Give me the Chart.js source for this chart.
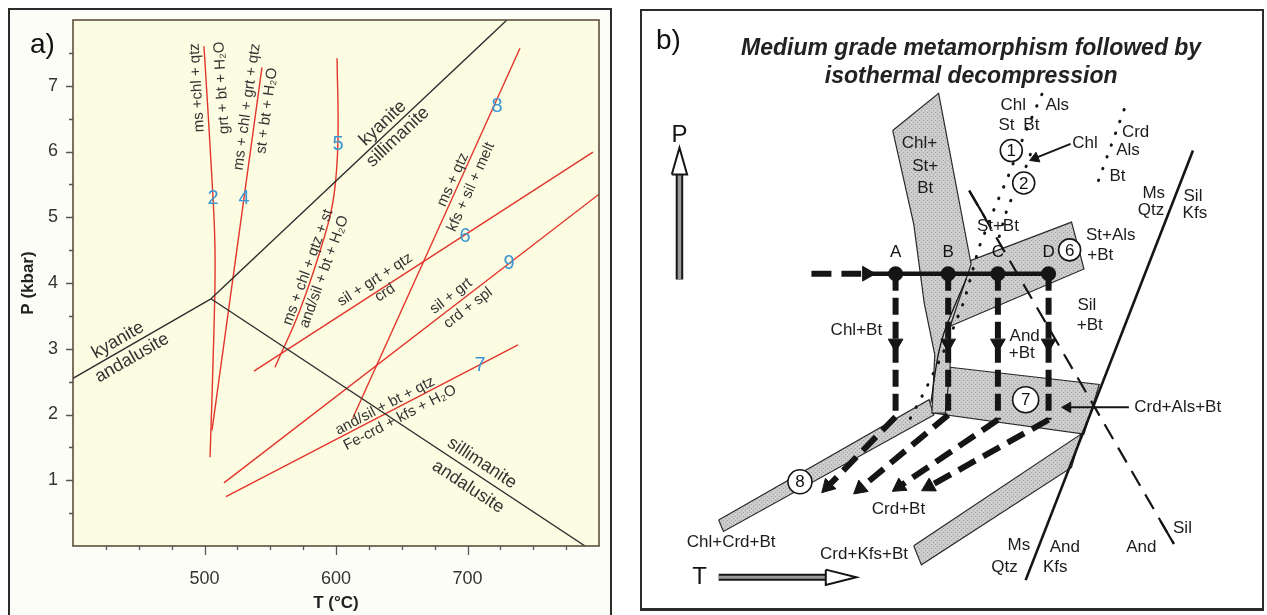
<!DOCTYPE html>
<html>
<head>
<meta charset="utf-8">
<title>Metamorphic P-T grids</title>
<script src="https://cdn.jsdelivr.net/npm/chart.js@4.4.1/dist/chart.umd.min.js"></script>
<style>
  html, body { margin: 0; padding: 0; background: #fff; }
  body { position: relative; width: 1267px; height: 615px; overflow: hidden; font-family: "Liberation Sans", Arial, sans-serif; }
  .panel { position: absolute; box-sizing: border-box; border: 2px solid #2b2b2b; pointer-events: none; }
  #frameA { left: 8px; top: 8px; width: 604px; height: 620px; }
  #frameB { left: 640px; top: 9px; width: 624px; height: 602px; border-bottom-width: 3px; }
  #bgA { position: absolute; left: 10px; top: 10px; width: 600px; height: 610px; background: #fdfdf8; }
  canvas { position: absolute; }
  #chartA { left: 10px; top: 10px; }
  #chartB { left: 641px; top: 10px; }
  .tag { position: absolute; font-size: 28px; line-height: 32px; color: #111; }
</style>
</head>
<body>
<div id="bgA"></div>
<canvas id="chartA" width="598" height="605"></canvas>
<canvas id="chartB" width="622" height="599"></canvas>
<div class="panel" id="frameA"></div>
<div class="panel" id="frameB"></div>
<div class="tag" style="left:30px;top:28px">a)</div>
<div class="tag" style="left:656px;top:24px">b)</div>
<script>
const F = '"Liberation Sans", Arial, sans-serif';

// ---- panel a: T (°C), P (kbar) ----
const tTickLabels = [500, 600, 700];
const pTickLabels = [1, 2, 3, 4, 5, 6, 7];

// Al2SiO5 boundaries
const kyAnd = [[400, 2.55], [504.9, 3.76]];
const kySil = [[504.9, 3.76], [730, 8]];
const silAnd = [[504.9, 3.76], [789.4, 0]];
// reaction curves 2, 4, 5, 6, 7, 8, 9
const rx2 = [[499.6, 7.6], [505.7, 5.57], [508.0, 4.5], [507.2, 3.29], [504.2, 1.35]];
const rx4 = [[543.7, 7.28], [505.7, 1.76]];
const rx5 = [[600.8, 7.42], [601.5, 6.17], [598.5, 5.34], [591.6, 4.73], [572.6, 3.59], [553.6, 2.72]];
const rx6 = [[537.6, 2.66], [795.4, 5.99]];
const rx7 = [[516.3, 0.75], [738.4, 3.06]];
const rx8 = [[612.9, 1.95], [739.9, 7.57]];
const rx9 = [[514.8, 0.96], [800, 5.35]];

// labels: text, T, P, angle, kind
const labelsA = [
  ['kyanite', 434.2, 3.13, -29.8, 'big'],
  ['andalusite', 444.9, 2.86, -29.8, 'big'],
  ['kyanite', 635.7, 6.43, -43.3, 'big'],
  ['sillimanite', 647.1, 6.22, -43.3, 'big'],
  ['sillimanite', 711.0, 1.26, 33.4, 'big'],
  ['andalusite', 700.4, 0.90, 33.4, 'big'],
  ['ms +chl + qtz', 494.3, 6.97, -93.4, 'rx'],
  ['grt + bt + H\u2082O', 513.3, 6.97, -93.4, 'rx'],
  ['ms + chl + grt + qtz', 532.3, 6.68, -82.2, 'rx'],
  ['st + bt + H\u2082O', 547.5, 6.62, -82.2, 'rx'],
  ['ms + chl + qtz + st', 578.7, 4.24, -70, 'rx'],
  ['and/sil + bt + H\u2082O', 590.9, 4.17, -70, 'rx'],
  ['sil + grt + qtz', 629.7, 4.05, -32.9, 'rx'],
  ['crd', 637.3, 3.85, -32.9, 'rx'],
  ['ms + qtz', 689.0, 5.57, -65.7, 'rx'],
  ['kfs + sil + melt', 702.7, 5.46, -65.7, 'rx'],
  ['sil + grt', 687.5, 3.80, -37.6, 'rx'],
  ['crd + spl', 700.4, 3.62, -37.6, 'rx'],
  ['and/sil + bt + qtz', 637.3, 2.13, -27.5, 'rx'],
  ['Fe-crd + kfs + H\u2082O', 648.7, 1.95, -27.5, 'rx'],
  ['2', 506.5, 5.29, 0, 'num'],
  ['4', 530.0, 5.29, 0, 'num'],
  ['5', 601.5, 6.10, 0, 'num'],
  ['8', 722.4, 6.68, 0, 'num'],
  ['6', 698.1, 4.70, 0, 'num'],
  ['9', 731.6, 4.30, 0, 'num'],
  ['7', 709.5, 2.75, 0, 'num']
];

// ---- panel b: schematic grid (arbitrary T, P units) ----
const band3 = [[249, 487], [297, 526], [331, 347], [309, 282], [309, 237], [304, 191], [290, 191], [293, 252], [282, 306], [271, 389]];
const band6 = [[331, 351], [436, 391], [449, 342], [309, 282]];
const band7 = [[309, 239], [465, 221], [449, 169], [291, 191]];
const band8 = [[67, 79], [287, 205], [292, 189], [72, 67]];
const band9 = [[271, 52], [446, 169], [436, 134], [279, 32]];
const msQtzKfs = [[388, 16], [563, 466]];
const andSil = [[329, 424], [543, 54]];
const andSilTop = [[329, 424], [346, 395]];
const andSilEnd = [[529, 78], [543, 54]];
const innerCurve = [[326, 332], [304, 279], [296, 249], [289, 202]];
const dots1 = [[405, 525], [386, 481], [369, 437], [356, 407], [339, 364], [324, 309], [304, 259], [284, 217], [264, 179]];
const dots2 = [[393, 462], [388, 448], [369, 406], [359, 371]];
const dots3 = [[491, 509], [464, 434]];
const chlArrow = [[435, 473], [398, 458]];
const crdArrow = [[496, 197], [432, 197]];
const pArrow = [[26, 331], [26, 441]];
const pHead = [[18, 441], [26, 469], [34, 441]];
const tArrow = [[67, 19], [179, 19]];
const tHead = [[179, 27], [211, 19], [179, 11]];

const stationName = ['A', 'B', 'C', 'D'];
const stationT = [252, 307, 359, 412];
const peakP = 337;
const heatStartT = 164;
const decompP = [187, 189, 184, 184];
const coolT = [181, 215, 256, 287];
const coolP = [114, 112, 114, 114];

const fieldName = ['1', '2', '6', '7', '8'];
const fieldT = [373, 386, 434, 388, 152];
const fieldP = [466, 432, 362, 205, 119];
const fieldR = [11, 11, 11, 13, 12];

const labelsB = [
  ['Chl+', 277, 474], ['St+', 283, 449], ['Bt', 283, 426],
  ['Chl', 375, 513], ['Als', 421, 513], ['St', 368, 492], ['Bt', 394, 492],
  ['Chl', 450, 474], ['Crd', 503, 485], ['Als', 495, 466], ['Bt', 484, 439],
  ['Ms', 522, 421], ['Qtz', 519, 403], ['Sil', 563, 418], ['Kfs', 565, 400],
  ['St+Bt', 359, 387], ['St+Als', 477, 377], ['+Bt', 466, 356],
  ['Chl+Bt', 211, 278], ['And', 387, 271], ['+Bt', 384, 254],
  ['Sil', 452, 304], ['+Bt', 455, 283], ['Crd+Als+Bt', 547, 197],
  ['Crd+Bt', 255, 90], ['Chl+Crd+Bt', 80, 56], ['Crd+Kfs+Bt', 219, 43],
  ['Ms', 381, 52], ['Qtz', 366, 29], ['And', 429, 50], ['Kfs', 419, 29],
  ['And', 509, 50], ['Sil', 552, 70]
];
const titleB = ['Medium grade metamorphism followed by', 'isothermal decompression'];

// ---- helpers ----
const xy = pts => pts.map(([x, y]) => ({ x, y }));
const closed = pts => xy(pts.concat([pts[0]]));
const heading = (dT, dP) => Math.atan2(dT, dP) * 180 / Math.PI;

function line(pts, color, width, extra) {
  return Object.assign({ data: xy(pts), borderColor: color, borderWidth: width, pointRadius: 0, fill: false }, extra || {});
}

function drawText(ctx, text, px, py, font, color, rot) {
  ctx.save();
  ctx.translate(px, py);
  ctx.rotate((rot || 0) * Math.PI / 180);
  ctx.font = font;
  ctx.fillStyle = color;
  ctx.textAlign = 'center';
  ctx.textBaseline = 'middle';
  ctx.fillText(text, 0, 0);
  ctx.restore();
}

function stipple() {
  const c = document.createElement('canvas');
  c.width = c.height = 4;
  const g = c.getContext('2d');
  g.fillStyle = '#cbcbcb';
  g.fillRect(0, 0, 4, 4);
  g.fillStyle = '#a2a2a2';
  g.fillRect(0, 0, 1, 1);
  g.fillRect(2, 2, 1, 1);
  g.fillStyle = '#dadada';
  g.fillRect(2, 0, 1, 1);
  return g.createPattern(c, 'repeat');
}

// no extra room for edge labels: the frame is fixed
function noEdgePadding(s) {
  s.paddingTop = 0; s.paddingBottom = 0; s.paddingLeft = 0; s.paddingRight = 0;
}

// ---- chart a ----
const red = '#e2352b', ink = '#2e2e2e', blue = '#3b96d2';
const fontsA = { big: '18px ' + F, rx: '15px ' + F, num: '20px ' + F };

const paperA = {
  id: 'paperA',
  beforeDraw(chart) {
    const { ctx, chartArea: a } = chart;
    ctx.save();
    ctx.fillStyle = '#fcfce2';
    ctx.fillRect(a.left, a.top, a.right - a.left, a.bottom - a.top);
    ctx.restore();
  },
  afterDatasetsDraw(chart) {
    const { ctx, scales: { x, y } } = chart;
    labelsA.forEach(([t, T, P, rot, kind]) => {
      drawText(ctx, t, x.getPixelForValue(T), y.getPixelForValue(P), fontsA[kind], kind === 'num' ? blue : '#333', rot);
    });
  },
  afterDraw(chart) {
    const { ctx, chartArea: a, scales: { x, y } } = chart;
    ctx.save();
    ctx.strokeStyle = '#5c4e3c';
    ctx.lineWidth = 1.6;
    ctx.strokeRect(a.left, a.top, a.right - a.left, a.bottom - a.top);
    ctx.strokeStyle = '#555';
    ctx.lineWidth = 1.3;
    ctx.beginPath();
    for (let t = 425; t < 800; t += 25) {
      const px = Math.round(x.getPixelForValue(t)) + 0.5;
      ctx.moveTo(px, a.bottom);
      ctx.lineTo(px, a.bottom + (t % 100 === 0 ? 9 : 4));
    }
    for (let p = 0.5; p < 8; p += 0.5) {
      const py = Math.round(y.getPixelForValue(p)) + 0.5;
      ctx.moveTo(a.left, py);
      ctx.lineTo(a.left - (p % 1 === 0 ? 7 : 4), py);
    }
    ctx.stroke();
    ctx.restore();
  }
};

new Chart(document.getElementById('chartA'), {
  type: 'line',
  data: {
    datasets: [
      line(kyAnd, ink, 1.4), line(kySil, ink, 1.4), line(silAnd, ink, 1.4),
      line(rx2, red, 1.4, { tension: 0.4 }), line(rx4, red, 1.4),
      line(rx5, red, 1.4, { tension: 0.4 }), line(rx6, red, 1.4),
      line(rx7, red, 1.4), line(rx8, red, 1.4), line(rx9, red, 1.4)
    ]
  },
  options: {
    responsive: false, animation: false, events: [],
    layout: { padding: { top: 10, right: 9, left: 0, bottom: 0 } },
    plugins: { legend: { display: false }, tooltip: { enabled: false } },
    scales: {
      x: {
        type: 'linear', min: 400, max: 800,
        afterFit: s => { s.height = 69; noEdgePadding(s); },
        grid: { display: false, drawTicks: false }, border: { display: false },
        ticks: {
          stepSize: 100, autoSkip: false, maxRotation: 0, padding: 22, color: '#333',
          font: { size: 18, family: F },
          callback: v => tTickLabels.includes(v) ? String(v) : ''
        },
        title: { display: true, text: 'T (°C)', color: '#222', font: { size: 17, weight: 'bold', family: F }, padding: { bottom: 1 } }
      },
      y: {
        type: 'linear', min: 0, max: 8,
        afterFit: s => { s.width = 63; noEdgePadding(s); },
        grid: { display: false, drawTicks: false }, border: { display: false },
        ticks: {
          stepSize: 1, autoSkip: false, padding: 15, color: '#333',
          font: { size: 18, family: F },
          callback: v => pTickLabels.includes(v) ? String(v) : ''
        },
        title: { display: true, text: 'P (kbar)', color: '#222', font: { size: 17, weight: 'bold', family: F }, padding: { top: 8 } }
      }
    }
  },
  plugins: [paperA]
});

// ---- chart b ----
const grey = stipple();
const k = '#151515';
function band(pts) {
  return { data: closed(pts), borderColor: '#2a2a2a', borderWidth: 1.2, backgroundColor: grey, fill: 'shape', pointRadius: 0, order: 20 };
}
function dotted(pts) {
  return line(pts, k, 3, { borderDash: [0.5, 12], borderCapStyle: 'round', order: 9 });
}
function thickDash(pts, dash) {
  return line(pts, k, 6, { borderDash: dash, order: 5 });
}

const dsB = [
  band(band3), band(band6), band(band7), band(band8), band(band9),
  line(msQtzKfs, k, 2.6, { order: 10 }),
  line(andSil, k, 2.2, { borderDash: [17, 10], order: 10 }),
  line(andSilTop, k, 2.2, { order: 10 }),
  line(andSilEnd, k, 2.2, { order: 10 }),
  line(innerCurve, k, 1.3, { tension: 0.3, order: 10 }),
  dotted(dots1), dotted(dots2), dotted(dots3),
  line(chlArrow, k, 2, { order: 4 }),
  line(crdArrow, k, 2, { order: 4 }),
  line(pArrow, k, 7.5, { order: 8 }),
  line(pArrow, '#9a9a9a', 3.5, { order: 7 }),
  line(tArrow, k, 7, { order: 8 }),
  line(tArrow, '#9a9a9a', 3, { order: 7 }),
  { data: closed(pHead), borderColor: k, borderWidth: 2, backgroundColor: '#fff', fill: 'shape', pointRadius: 0, order: 6 },
  { data: closed(tHead), borderColor: k, borderWidth: 2, backgroundColor: '#fff', fill: 'shape', pointRadius: 0, order: 6 },
  thickDash([[heatStartT, peakP], [stationT[0] - 36, peakP]], [20, 10]),
  line([[stationT[0] - 28, peakP], [stationT[3], peakP]], k, 4.5, { order: 5 })
];

const headPts = [], headRot = [];
headPts.push({ x: stationT[0] - 30, y: peakP }); headRot.push(90);
stationT.forEach((T, i) => {
  dsB.push(thickDash([[T, peakP], [T, decompP[i]]], [17, 7]));
  dsB.push(thickDash([[T, decompP[i]], [coolT[i], coolP[i]]], [19, 9]));
  headPts.push({ x: T, y: 264 }); headRot.push(180);
  headPts.push({ x: coolT[i], y: coolP[i] }); headRot.push(heading(coolT[i] - T, coolP[i] - decompP[i]));
});
headPts.push({ x: chlArrow[1][0], y: chlArrow[1][1] });
headRot.push(heading(chlArrow[1][0] - chlArrow[0][0], chlArrow[1][1] - chlArrow[0][1]));
headPts.push({ x: crdArrow[1][0], y: crdArrow[1][1] });
headRot.push(heading(crdArrow[1][0] - crdArrow[0][0], crdArrow[1][1] - crdArrow[0][1]));
const headR = headPts.map((p, i) => i >= headPts.length - 2 ? 6 : 8.5);

dsB.push({
  data: headPts, showLine: false, pointStyle: 'triangle', pointRadius: headR, pointRotation: headRot,
  pointBackgroundColor: k, pointBorderColor: k, pointBorderWidth: 1, order: 3
});
dsB.push({
  data: stationT.map(T => ({ x: T, y: peakP })), showLine: false, pointStyle: 'circle', pointRadius: 7.5,
  pointBackgroundColor: k, pointBorderWidth: 0, order: 2
});
dsB.push({
  data: fieldT.map((T, i) => ({ x: T, y: fieldP[i] })), showLine: false, pointStyle: 'circle', pointRadius: fieldR,
  pointBackgroundColor: '#fff', pointBorderColor: k, pointBorderWidth: 1.6, order: 1
});

const textB = {
  id: 'textB',
  afterDatasetsDraw(chart) {
    const { ctx, scales: { x, y } } = chart;
    const lab = '17px ' + F;
    labelsB.forEach(([t, T, P]) => drawText(ctx, t, x.getPixelForValue(T), y.getPixelForValue(P), lab, '#1c1c1c', 0));
    stationName.forEach((t, i) => drawText(ctx, t, x.getPixelForValue(stationT[i]), y.getPixelForValue(peakP + 22), '17px ' + F, '#111', 0));
    fieldName.forEach((t, i) => drawText(ctx, t, x.getPixelForValue(fieldT[i]), y.getPixelForValue(fieldP[i]) + 1, '17px ' + F, '#111', 0));
    drawText(ctx, 'P', x.getPixelForValue(26), y.getPixelForValue(482), '24px ' + F, '#111', 0);
    drawText(ctx, 'T', x.getPixelForValue(47), y.getPixelForValue(19), '24px ' + F, '#111', 0);
    drawText(ctx, titleB[0], x.getPixelForValue(331), y.getPixelForValue(573), 'italic bold 23px ' + F, '#222', 0);
    drawText(ctx, titleB[1], x.getPixelForValue(331), y.getPixelForValue(543), 'italic bold 23px ' + F, '#222', 0);
  }
};

new Chart(document.getElementById('chartB'), {
  type: 'line',
  data: { datasets: dsB },
  options: {
    responsive: false, animation: false, events: [],
    layout: { padding: 0 },
    plugins: { legend: { display: false }, tooltip: { enabled: false } },
    scales: {
      x: { type: 'linear', min: 0, max: 622, display: false },
      y: { type: 'linear', min: 0, max: 599, display: false }
    }
  },
  plugins: [textB]
});
</script>
</body>
</html>
